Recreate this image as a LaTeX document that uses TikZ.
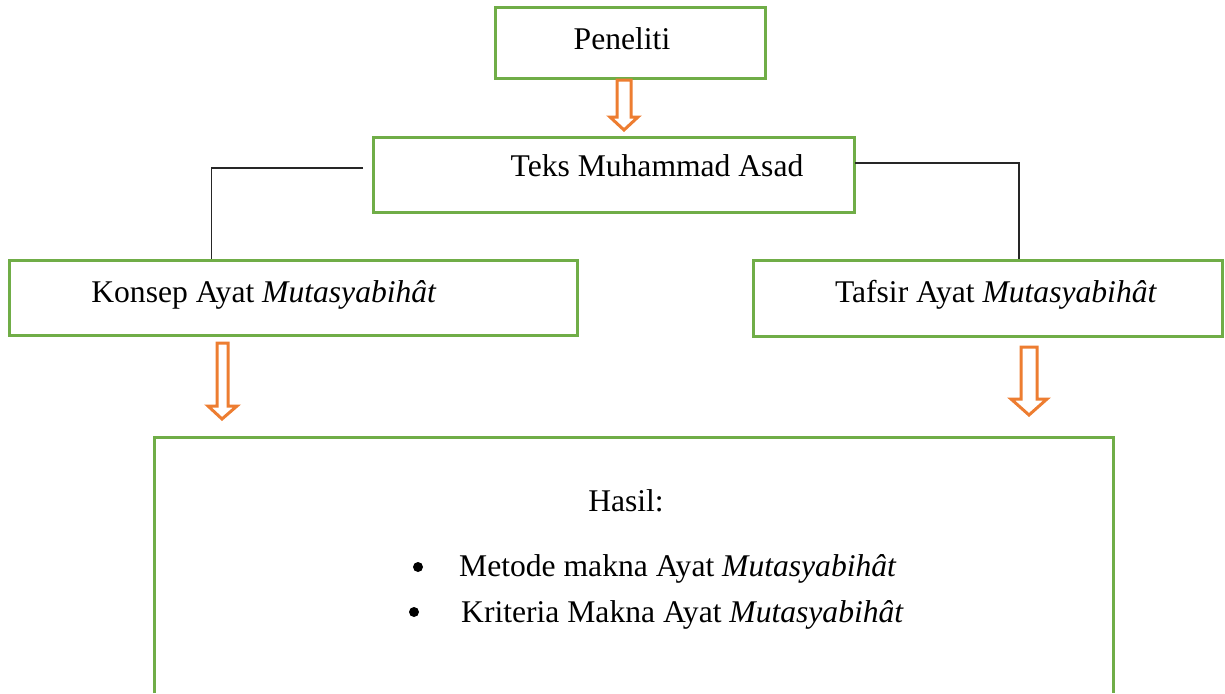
\documentclass[tikz,border=0pt]{standalone}
\usepackage{fontspec}
\setmainfont{Liberation Serif}
\definecolor{boxgreen}{RGB}{112,173,71}
\definecolor{arrorange}{RGB}{237,125,49}
\begin{document}
\begin{tikzpicture}[x=1pt,y=-1pt,
  box/.style={draw=boxgreen,line width=3pt,rectangle,inner sep=0pt},
  txt/.style={inner sep=0pt,anchor=base,font=\fontsize{31.6}{38}\selectfont},
  conn/.style={draw=black!85,line width=1.5pt},
  hollow/.style={draw=arrorange,line width=3pt,line join=miter,fill=white}]
\useasboundingbox (0,0) rectangle (1225,693);
% boxes
\node[box,minimum width=270pt,minimum height=70pt] (pen) at (630,43) {};
\node[box,minimum width=481pt,minimum height=75pt] (teks) at (613.5,174.5) {};
\node[box,minimum width=568pt,minimum height=75pt] (konsep) at (293,297.5) {};
\node[box,minimum width=469pt,minimum height=76pt] (tafsir) at (987.5,298) {};
\node[inner sep=0pt,minimum width=958pt,minimum height=255pt] (hasil) at (634,565.5) {};
\draw[draw=boxgreen,line width=3pt] (hasil.south west) -- (hasil.north west) -- (hasil.north east) -- (hasil.south east);
% texts
\node[txt] (tpen) at (622,49) {Peneliti};
\node[txt] (tteks) at (657,176) {Teks Muhammad Asad};
\node[txt] (tkonsep) at (264,302) {Konsep Ayat \textit{Mutasyabihât}};
\node[txt] (ttafsir) at (996,302) {Tafsir Ayat \textit{Mutasyabihât}};
\node[txt] (thasil) at (626,511) {Hasil:};
\node[txt,anchor=base west] (tm) at (459,576) {Metode makna Ayat \textit{Mutasyabihât}};
\node[txt,anchor=base west] (tk) at (461,622) {Kriteria Makna Ayat \textit{Mutasyabihât}};
\fill (418,567) circle (5pt);
\fill (414,612) circle (5pt);
% connectors
\coordinate (lc) at (363,168);
\coordinate (lk) at (211.5,259);
\draw[conn] (lc) -| (lk);
\coordinate (rc) at (855,163);
\coordinate (rk) at (1019,259);
\draw[conn] (rc) -| (rk);
% hollow arrows
\draw[hollow] (617,80) -- (631,80) -- (631,117) -- (638,117) -- (624,130) -- (610,117) -- (617,117) -- cycle;
\draw[hollow] (217,343) -- (228,343) -- (228,406) -- (237,406) -- (222,419) -- (208,406) -- (217,406) -- cycle;
\draw[hollow] (1021,347) -- (1037,347) -- (1037,399) -- (1047,399) -- (1029,415) -- (1011,399) -- (1021,399) -- cycle;
\end{tikzpicture}
\end{document}
